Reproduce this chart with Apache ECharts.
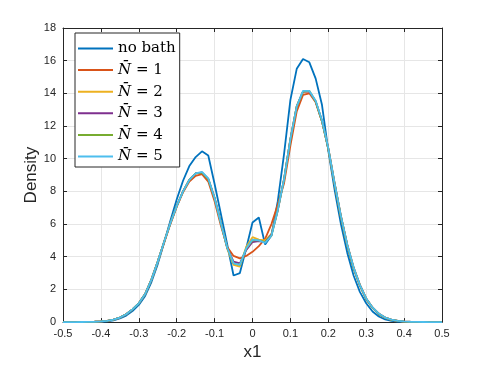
<!DOCTYPE html>
<html>
<head>
<meta charset="utf-8">
<script src="https://cdn.jsdelivr.net/npm/echarts@6/dist/echarts.min.js"></script>
<style>
  html, body { margin: 0; padding: 0; background: #fff; }
  #chart { width: 488px; height: 366px; }
</style>
</head>
<body>
<div id="chart"></div>
<script>
// sample positions (x1)
var xs = [-0.5, -0.4833, -0.4667, -0.45, -0.4333, -0.4167, -0.4, -0.3833, -0.3667, -0.35,
  -0.3333, -0.3167, -0.3, -0.2833, -0.2667, -0.25, -0.2333, -0.2167, -0.2, -0.1833,
  -0.1667, -0.15, -0.1333, -0.1167, -0.1, -0.0833, -0.0667, -0.05, -0.0333, -0.0167,
  0, 0.0167, 0.0333, 0.05, 0.0667, 0.0833, 0.1, 0.1167, 0.1333, 0.15,
  0.1667, 0.1833, 0.2, 0.2167, 0.2333, 0.25, 0.2667, 0.2833, 0.3, 0.3167,
  0.3333, 0.35, 0.3667, 0.3833, 0.4, 0.4167, 0.4333, 0.45, 0.4667, 0.4833, 0.5];

var noBath = [0, 0, 0, 0, 0.005, 0.01, 0.02, 0.05, 0.11, 0.22,
  0.4, 0.68, 1.05, 1.6, 2.45, 3.55, 4.85, 6.2, 7.5, 8.65,
  9.55, 10.1, 10.45, 10.2, 8.45, 6.6, 4.75, 2.85, 3.0, 4.5,
  6.1, 6.4, 4.75, 5.3, 7.4, 10.3, 13.6, 15.5, 16.1, 15.9,
  14.9, 13.3, 10.5, 8.1, 6.0, 4.25, 2.85, 1.85, 1.15, 0.65,
  0.34, 0.16, 0.07, 0.03, 0.01, 0, 0, 0, 0, 0, 0];

var nBar1 = [0, 0, 0, 0.005, 0.01, 0.02, 0.04, 0.08, 0.15, 0.28,
  0.48, 0.78, 1.15, 1.72, 2.6, 3.7, 4.85, 6.0, 7.05, 7.95,
  8.6, 8.95, 9.05, 8.6, 7.4, 5.9, 4.6, 4.05, 3.9, 4.05,
  4.3, 4.65, 5.1, 6.0, 7.2, 8.5, 10.8, 12.9, 13.9, 14.0,
  13.45, 12.3, 10.65, 8.5, 6.5, 4.75, 3.35, 2.3, 1.45, 0.9,
  0.52, 0.28, 0.15, 0.08, 0.04, 0.02, 0.01, 0.005, 0, 0, 0];

var nBar2 = [0, 0, 0, 0.005, 0.01, 0.02, 0.04, 0.08, 0.15, 0.28,
  0.48, 0.78, 1.15, 1.72, 2.6, 3.7, 4.9, 6.05, 7.1, 8.0,
  8.7, 9.1, 9.15, 8.75, 7.6, 6.05, 4.5, 3.5, 3.4, 4.6,
  5.2, 5.05, 5.0, 5.4, 6.9, 8.75, 11.2, 13.2, 14.1, 14.1,
  13.5, 12.3, 10.6, 8.45, 6.45, 4.7, 3.3, 2.25, 1.42, 0.88,
  0.5, 0.27, 0.14, 0.07, 0.035, 0.015, 0.01, 0.005, 0, 0, 0];

var nBar3 = [0, 0, 0, 0.005, 0.01, 0.02, 0.04, 0.08, 0.15, 0.28,
  0.48, 0.78, 1.15, 1.72, 2.6, 3.7, 4.9, 6.05, 7.1, 8.0,
  8.7, 9.1, 9.15, 8.75, 7.6, 6.05, 4.55, 3.7, 3.6, 4.4,
  4.9, 4.95, 4.9, 5.35, 6.85, 8.75, 11.2, 13.2, 14.1, 14.1,
  13.5, 12.3, 10.6, 8.45, 6.45, 4.7, 3.3, 2.25, 1.42, 0.88,
  0.5, 0.27, 0.14, 0.07, 0.035, 0.015, 0.01, 0.005, 0, 0, 0];

var nBar4 = [0, 0, 0, 0.005, 0.01, 0.02, 0.04, 0.08, 0.15, 0.28,
  0.48, 0.78, 1.15, 1.72, 2.6, 3.7, 4.9, 6.05, 7.1, 8.0,
  8.7, 9.1, 9.15, 8.75, 7.6, 6.05, 4.55, 3.6, 3.5, 4.5,
  5.0, 5.0, 4.9, 5.3, 6.85, 8.75, 11.2, 13.2, 14.1, 14.15,
  13.5, 12.3, 10.6, 8.45, 6.45, 4.7, 3.3, 2.25, 1.42, 0.88,
  0.5, 0.27, 0.14, 0.07, 0.035, 0.015, 0.01, 0.005, 0, 0, 0];

var nBar5 = [0, 0, 0, 0.005, 0.01, 0.02, 0.04, 0.08, 0.15, 0.28,
  0.48, 0.78, 1.15, 1.72, 2.6, 3.7, 4.9, 6.05, 7.1, 8.0,
  8.7, 9.1, 9.2, 8.8, 7.6, 6.05, 4.55, 3.6, 3.5, 4.5,
  5.05, 5.0, 4.85, 5.3, 6.85, 8.75, 11.2, 13.2, 14.15, 14.15,
  13.55, 12.35, 10.65, 8.5, 6.5, 4.75, 3.35, 2.28, 1.45, 0.9,
  0.52, 0.28, 0.15, 0.08, 0.04, 0.02, 0.01, 0.005, 0, 0, 0];

var seriesNames = ['no bath', 'N1', 'N2', 'N3', 'N4', 'N5'];
var seriesColors = ['#0072BD', '#D95319', '#EDB120', '#7E2F8E', '#77AC30', '#4DBEEE'];
var seriesValues = [noBath, nBar1, nBar2, nBar3, nBar4, nBar5];

var axisColor = '#262626';
var gridColor = '#e6e6e6';

var myChart = echarts.init(document.getElementById('chart'));

var series = seriesValues.map(function (vals, i) {
  return {
    name: seriesNames[i],
    type: 'line',
    symbol: 'none',
    smooth: false,
    data: xs.map(function (x, j) { return [x, vals[j]]; }),
    lineStyle: { color: seriesColors[i], width: 1.8 },
    itemStyle: { color: seriesColors[i] },
    z: 2 + i
  };
});

myChart.setOption({
  backgroundColor: '#fff',
  animation: false,
  grid: { left: 63, right: 46, top: 28, bottom: 42 },
  legend: {
    orient: 'vertical',
    left: 75,
    top: 33,
    data: seriesNames,
    icon: 'rect',
    itemWidth: 35,
    itemHeight: 2,
    itemGap: 6.6,
    padding: [8, 4, 3, 3],
    borderColor: axisColor,
    borderWidth: 1,
    backgroundColor: '#fff',
    formatter: function (name) {
      if (name === 'no bath') return name;
      return '{i|N\u0304} = ' + name.slice(1);
    },
    textStyle: {
      fontFamily: 'DejaVu Serif',
      fontSize: 15,
      color: '#000',
      lineHeight: 14,
      rich: {
        i: { fontFamily: 'DejaVu Serif', fontStyle: 'italic', fontSize: 15, color: '#000', lineHeight: 14 }
      }
    }
  },
  xAxis: [
    {
      type: 'value',
      min: -0.5,
      max: 0.5,
      interval: 0.1,
      position: 'bottom',
      name: 'x1',
      nameLocation: 'middle',
      nameGap: 20,
      nameTextStyle: { fontFamily: 'Liberation Sans', fontSize: 17, color: axisColor },
      axisLine: { onZero: false, lineStyle: { color: axisColor, width: 1 } },
      axisTick: { inside: true, length: 4, lineStyle: { color: axisColor } },
      axisLabel: { color: axisColor, fontSize: 11, fontFamily: 'Liberation Sans', margin: 6 },
      splitLine: { show: true, lineStyle: { color: gridColor, width: 1 } }
    },
    {
      type: 'value',
      min: -0.5,
      max: 0.5,
      interval: 0.1,
      position: 'top',
      axisLine: { onZero: false, lineStyle: { color: axisColor, width: 1 } },
      axisTick: { inside: true, length: 4, lineStyle: { color: axisColor } },
      axisLabel: { show: false },
      splitLine: { show: false }
    }
  ],
  yAxis: [
    {
      type: 'value',
      min: 0,
      max: 18,
      interval: 2,
      position: 'left',
      name: 'Density',
      nameLocation: 'middle',
      nameGap: 23,
      nameMoveOverlap: false,
      nameRotate: 90,
      nameTextStyle: { fontFamily: 'Liberation Sans', fontSize: 17, color: axisColor },
      axisLine: { show: true, onZero: false, lineStyle: { color: axisColor, width: 1 } },
      axisTick: { show: true, inside: true, length: 4, lineStyle: { color: axisColor } },
      axisLabel: { color: axisColor, fontSize: 11, fontFamily: 'Liberation Sans', margin: 7 },
      splitLine: { show: true, lineStyle: { color: gridColor, width: 1 } }
    },
    {
      type: 'value',
      min: 0,
      max: 18,
      interval: 2,
      position: 'right',
      axisLine: { show: true, onZero: false, lineStyle: { color: axisColor, width: 1 } },
      axisTick: { show: true, inside: true, length: 4, lineStyle: { color: axisColor } },
      axisLabel: { show: false },
      splitLine: { show: false }
    }
  ],
  series: series
});
</script>
</body>
</html>
